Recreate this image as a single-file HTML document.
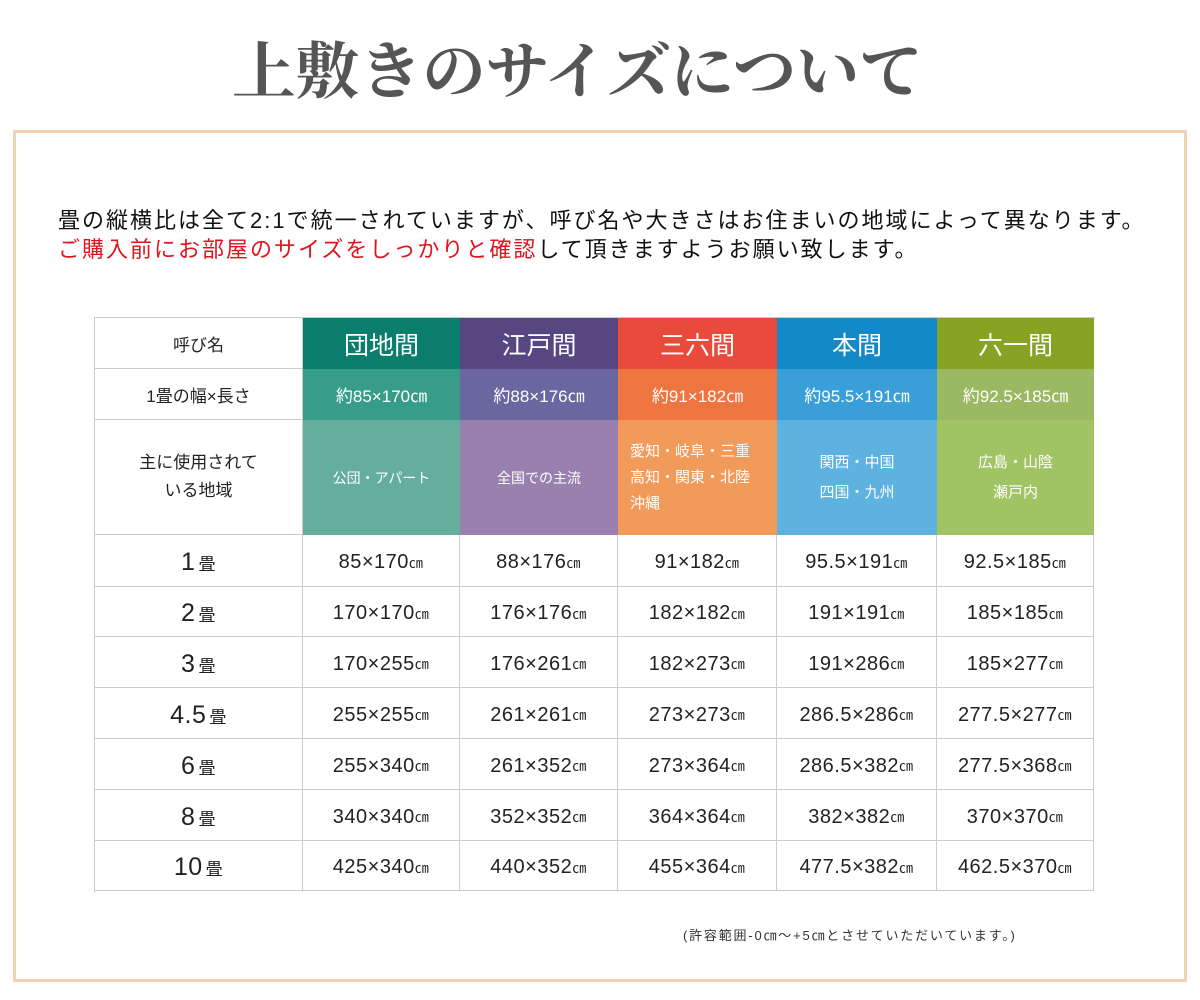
<!DOCTYPE html>
<html><head><meta charset="utf-8"><style>
body{margin:0;width:1200px;height:1000px;background:#fff;position:relative;overflow:hidden;font-family:"Liberation Sans","Noto Sans CJK JP",sans-serif;}
.a{position:absolute;}
.title{left:232px;top:22px;font-family:"Liberation Serif","Noto Serif CJK SC",serif;font-size:62px;font-weight:bold;color:#555;letter-spacing:-0.5px;white-space:nowrap;transform:scaleX(1.03);transform-origin:left top;}
.frame{left:13px;top:130px;width:1174px;height:852px;border:3px solid #efd3b3;box-sizing:border-box;}
.intro{left:58px;font-size:22px;letter-spacing:2px;color:#111;white-space:nowrap;}
.c{position:absolute;display:flex;align-items:center;justify-content:center;text-align:center;box-sizing:border-box;}
.w{color:#fff;}
.g{border-right:1px solid #ccc;border-bottom:1px solid #ccc;color:#222;}
</style></head><body>
<div class="a title">上敷きのサイズについて</div>
<div class="a frame"></div>
<div class="a intro" style="top:203px">畳の縦横比は全て2:1で統一されていますが、呼び名や大きさはお住まいの地域によって異なります。</div>
<div class="a intro" style="top:232px"><span style="color:#e0141e">ご購入前にお部屋のサイズをしっかりと確認</span>して頂きますようお願い致します。</div>

<div class="a" style="left:94px;top:317px;width:1000px;height:575px;border:1px solid #ccc;border-right:none;border-bottom:none;"></div>

<div class="c g" style="left:95px;top:318px;width:208px;height:51px;font-size:17px">呼び名</div>
<div class="c g" style="left:95px;top:369px;width:208px;height:51px;font-size:17px">1畳の幅×長さ</div>
<div class="c g" style="left:95px;top:420px;width:208px;height:115px;font-size:17px;line-height:28px">主に使用されて<br>いる地域</div>

<div class="c w" style="left:303px;top:318px;width:157px;height:51px;background:#0b7d6c;font-size:25px">団地間</div>
<div class="c w" style="left:460px;top:318px;width:158px;height:51px;background:#564783;font-size:25px">江戸間</div>
<div class="c w" style="left:618px;top:318px;width:159px;height:51px;background:#e84a3b;font-size:25px">三六間</div>
<div class="c w" style="left:777px;top:318px;width:160px;height:51px;background:#1489c8;font-size:25px">本間</div>
<div class="c w" style="left:937px;top:318px;width:157px;height:51px;background:#87a324;font-size:25px">六一間</div>

<div class="c w" style="left:303px;top:369px;width:157px;height:51px;background:#379d88;font-size:17px">約85×170㎝</div>
<div class="c w" style="left:460px;top:369px;width:158px;height:51px;background:#6a67a0;font-size:17px">約88×176㎝</div>
<div class="c w" style="left:618px;top:369px;width:159px;height:51px;background:#ee7440;font-size:17px">約91×182㎝</div>
<div class="c w" style="left:777px;top:369px;width:160px;height:51px;background:#3a9fd9;font-size:17px">約95.5×191㎝</div>
<div class="c w" style="left:937px;top:369px;width:157px;height:51px;background:#9bb862;font-size:17px">約92.5×185㎝</div>

<div class="c w" style="left:303px;top:420px;width:157px;height:115px;background:#65ae9e;font-size:14px">公団・アパート</div>
<div class="c w" style="left:460px;top:420px;width:158px;height:115px;background:#9a80ae;font-size:14px">全国での主流</div>
<div class="c w" style="left:618px;top:420px;width:159px;height:115px;background:#f29a5a;font-size:15px;line-height:26px;text-align:left;justify-content:flex-start;padding-left:12px">愛知・岐阜・三重<br>高知・関東・北陸<br>沖縄</div>
<div class="c w" style="left:777px;top:420px;width:160px;height:115px;background:#5db2e0;font-size:15px;line-height:30px">関西・中国<br>四国・九州</div>
<div class="c w" style="left:937px;top:420px;width:157px;height:115px;background:#a0c463;font-size:15px;line-height:30px">広島・山陰<br>瀬戸内</div>

<div id="rows"></div>
<script>
var d=[["1","85×170","88×176","91×182","95.5×191","92.5×185"],
["2","170×170","176×176","182×182","191×191","185×185"],
["3","170×255","176×261","182×273","191×286","185×277"],
["4.5","255×255","261×261","273×273","286.5×286","277.5×277"],
["6","255×340","261×352","273×364","286.5×382","277.5×368"],
["8","340×340","352×352","364×364","382×382","370×370"],
["10","425×340","440×352","455×364","477.5×382","462.5×370"]];
var xs=[95,303,460,618,777,937,1094],ys=[535,587,637,688,739,790,841,891],h="";
for(var r=0;r<7;r++){for(var c=0;c<6;c++){
var t=c==0?'<span style="font-size:25px">'+d[r][0]+'</span><span style="font-size:17px;margin-left:3px">畳</span>':d[r][c]+'<span style="font-size:14px">㎝</span>';
h+='<div class="c g" style="left:'+xs[c]+'px;top:'+ys[r]+'px;width:'+(xs[c+1]-xs[c])+'px;height:'+(ys[r+1]-ys[r])+'px;font-size:20px;letter-spacing:0.5px;padding-top:4px">'+t+'</div>';}}
document.getElementById("rows").innerHTML=h;
</script>
<div class="a" style="left:683px;top:925px;font-size:13px;letter-spacing:1.8px;color:#333;white-space:nowrap">(許容範囲-0㎝～+5㎝とさせていただいています。)</div>
</body></html>
